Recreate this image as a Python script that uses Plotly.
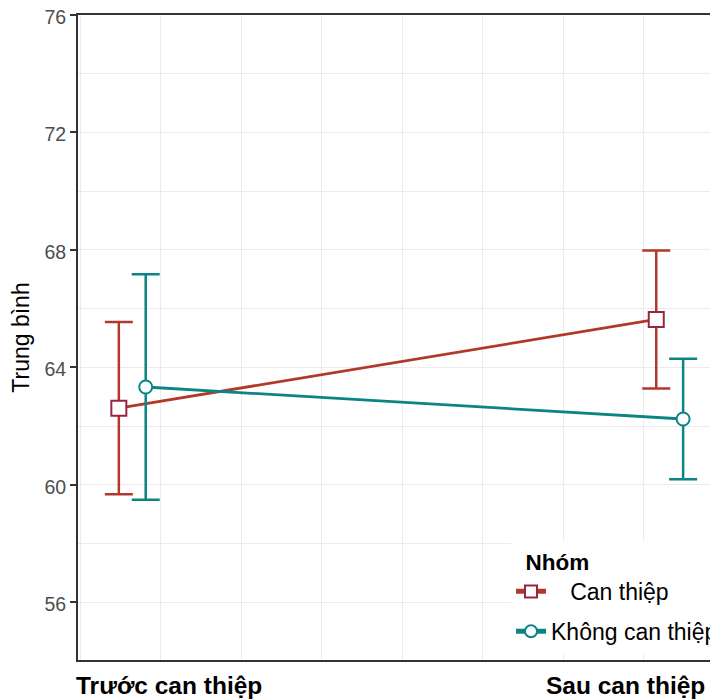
import plotly.graph_objects as go

# ---- data ----
phases = ["Trước can thiệp", "Sau can thiệp"]
groups = ["Can thiệp", "Không can thiệp"]
mean_can = [62.61, 65.63]
err_can = [2.93, 2.35]
mean_khong = [63.33, 62.24]
err_khong = [3.84, 2.05]
y_ticks = [56, 60, 64, 68, 72, 76]

# ---- style ----
RED = "#b3382c"
MAROON = "#9b2442"
TEAL = "#0b8584"
FONT = "Liberation Sans, Arial, sans-serif"
dodge = 0.025

xpos = [i + 1 for i in range(len(phases))]

series = [
    (groups[0], mean_can, err_can, -dodge, RED, MAROON, "square", 15),
    (groups[1], mean_khong, err_khong, dodge, TEAL, TEAL, "circle", 13),
]

fig = go.Figure()
for k, (name, m, e, off, col, mcol, sym, sz) in enumerate(series):
    label = ("\u00a0\u00a0\u00a0" + name) if k == 0 else name
    fig.add_trace(go.Scatter(
        x=[p + off for p in xpos], y=m,
        mode="lines+markers",
        name=label,
        legendgroup=name,
        line=dict(color=col, width=2.8),
        marker=dict(symbol=sym, size=sz, color="white",
                    line=dict(color=mcol, width=2)),
        error_y=dict(type="data", array=e, visible=True,
                     color=col, thickness=2.5, width=14),
    ))

for i, ph in enumerate(phases):
    fig.add_annotation(
        x=-0.006 if i == 0 else 0.983, xref="paper",
        xanchor="left" if i == 0 else "right",
        y=-0.0403, yref="paper", yanchor="middle",
        text="<b>" + ph + "</b>", showarrow=False,
        font=dict(family=FONT, size=24.5, color="black"),
    )

fig.update_layout(
    width=710, height=692,
    margin=dict(l=70, r=0, t=7, b=40, autoexpand=False),
    paper_bgcolor="white", plot_bgcolor="white",
    font=dict(family=FONT, color="black"),
    showlegend=True,
    legend=dict(
        x=0.6766, xanchor="left", y=0.185, yanchor="top",
        bgcolor="white", borderwidth=0,
        title=dict(text="\u00a0\u00a0<b>Nhóm</b>", font=dict(family=FONT, size=22.5, color="black")),
        font=dict(family=FONT, size=23, color="black"),
        tracegroupgap=7,
        itemsizing="constant",
    ),
    xaxis=dict(
        range=[0.899, 2.0899],
        tickmode="linear", tick0=1.053, dtick=0.1497,
        showticklabels=False, ticks="",
        showgrid=True, gridcolor="#ebebeb", gridwidth=1.3,
        zeroline=False,
        showline=True, linecolor="#333333", linewidth=2, mirror=True,
    ),
    yaxis=dict(
        range=[54.03, 76.002],
        tickmode="array", tickvals=y_ticks,
        ticks="outside", ticklen=6, tickcolor="#333333", tickwidth=1.5,
        tickfont=dict(family=FONT, size=19.5, color="#4d4d4d"),
        ticklabeloverflow="allow",
        ticklabelshift=2,
        showgrid=True, gridcolor="#ebebeb", gridwidth=1.3,
        minor=dict(dtick=2, tick0=54, showgrid=True, gridcolor="#ebebeb", gridwidth=1.3, ticks=""),
        zeroline=False,
        showline=True, linecolor="#333333", linewidth=2,
        title=dict(text="Trung bình", font=dict(family=FONT, size=23, color="black"), standoff=17),
        automargin=False,
    ),
)

fig.write_html("out.html")
